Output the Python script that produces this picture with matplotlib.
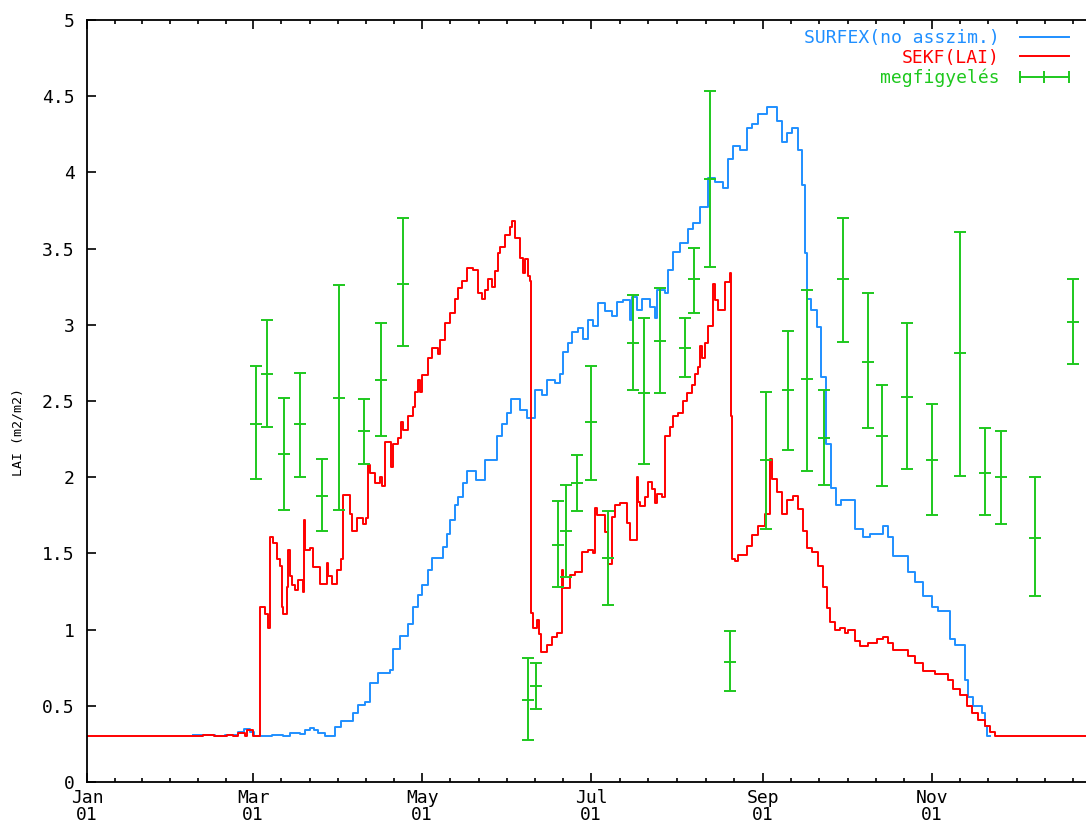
import numpy as np
import matplotlib
matplotlib.use('Agg')
import matplotlib.pyplot as plt
from matplotlib.lines import Line2D
from matplotlib.ticker import FormatStrFormatter

# napok az év elejétől (szökőév), LAI értékek
surfex_nap = [38.3, 46.2, 49.8, 54.5, 56.7, 58.8, 60.3, 66.8, 70.7, 73.3, 76.9, 78.7, 80.5, 81.9, 83.4, 85.9,
              89.5, 91.7, 96.0, 97.8, 100.3, 102.1, 105.0, 109.4, 110.5, 113.0, 115.9, 117.7, 119.5, 120.9,
              123.1, 124.5, 128.5, 129.9, 131.0, 132.8, 133.9, 135.7, 137.2, 140.4, 143.7, 148.0, 149.8,
              151.6, 153.0, 156.3, 158.8, 161.7, 164.2, 166.0, 168.9, 170.7, 171.8, 173.6, 175.1, 177.2,
              179.0, 180.8, 182.6, 184.4, 187.0, 189.5, 191.3, 193.5, 196.0, 196.7, 198.5, 200.3, 203.2,
              205.0, 205.7, 208.6, 209.7, 211.5, 214.1, 217.0, 218.7, 221.3, 224.2, 226.7, 229.6, 231.4,
              233.2, 235.7, 238.2, 240.0, 242.2, 245.4, 249.0, 250.9, 252.7, 254.5, 256.6, 258.1, 259.2,
              259.9, 261.3, 263.5, 264.9, 266.7, 268.5, 270.3, 272.1, 277.2, 280.1, 282.6, 287.3, 289.1,
              290.9, 296.3, 298.9, 301.8, 305.0, 307.2, 311.5, 313.3, 316.9, 318.0, 319.8, 323.0, 324.1,
              324.9, 325.9]
surfex_lai = [0.31, 0.30, 0.31, 0.33, 0.345, 0.33, 0.30, 0.31, 0.305, 0.32, 0.315, 0.34, 0.355, 0.34, 0.32, 0.305,
              0.36, 0.40, 0.45, 0.505, 0.527, 0.65, 0.715, 0.735, 0.87, 0.96, 1.04, 1.15, 1.23, 1.29,
              1.39, 1.47, 1.54, 1.63, 1.72, 1.82, 1.87, 1.96, 2.04, 1.98, 2.11, 2.27, 2.35,
              2.42, 2.51, 2.44, 2.39, 2.57, 2.54, 2.64, 2.62, 2.68, 2.82, 2.88, 2.955, 2.98,
              2.91, 3.03, 2.99, 3.14, 3.09, 3.06, 3.15, 3.16, 3.03, 3.185, 3.10, 3.17, 3.12,
              3.045, 3.23, 3.21, 3.36, 3.48, 3.535, 3.63, 3.665, 3.775, 3.96, 3.94, 3.895, 4.09,
              4.17, 4.15, 4.29, 4.32, 4.38, 4.43, 4.34, 4.20, 4.26, 4.29, 4.15, 3.92, 3.47,
              3.17, 3.10, 2.985, 2.66, 2.22, 1.93, 1.82, 1.85, 1.66, 1.61, 1.63, 1.68, 1.61,
              1.48, 1.38, 1.31, 1.22, 1.15, 1.12, 0.94, 0.90, 0.67, 0.555, 0.50, 0.45, 0.37,
              0.30, 0.30]

sekf_nap = [0.0, 42.0, 46.0, 50.5, 52.7, 54.5, 57.0, 57.7, 60.0, 62.4, 64.2, 65.3, 66.1, 67.1, 68.6, 69.7,
            70.4, 70.7, 72.2, 72.5, 73.3, 74.0, 75.1, 76.2, 78.0, 78.3, 78.7, 80.5, 81.6, 84.1, 86.6,
            87.0, 88.4, 90.2, 91.7, 92.4, 94.9, 95.7, 97.5, 99.6, 100.7, 101.4, 102.1, 104.0, 105.8,
            106.5, 107.6, 109.7, 110.5, 112.3, 113.3, 114.1, 115.9, 117.7, 118.4, 119.5, 120.2, 120.9,
            123.1, 124.5, 126.7, 127.4, 129.2, 131.0, 132.8, 133.9, 135.4, 137.2, 139.3, 141.1, 142.6,
            143.7, 144.7, 146.2, 147.3, 148.4, 149.1, 150.9, 152.7, 153.4, 154.5, 156.3, 157.4, 158.1,
            159.2, 159.9, 160.3, 161.0, 162.4, 163.1, 163.9, 166.0, 167.8, 169.6, 171.5, 171.8, 174.3,
            176.1, 178.7, 180.8, 182.6, 183.4, 184.0, 187.0, 188.1, 189.5, 190.6, 192.4, 194.9, 196.0,
            198.5, 198.9, 199.6, 201.4, 202.5, 203.9, 205.0, 205.7, 207.5, 208.6, 210.4, 211.5, 213.3,
            215.1, 216.6, 218.4, 219.5, 220.5, 221.3, 222.0, 223.1, 224.2, 226.0, 226.7, 227.8, 230.3,
            232.1, 232.4, 232.9, 233.9, 235.0, 238.2, 240.0, 242.2, 244.7, 246.5, 247.2, 249.0, 250.9,
            252.7, 254.8, 256.6, 258.4, 259.9, 261.7, 263.9, 265.7, 267.1, 268.2, 270.0, 271.8, 273.6,
            274.7, 277.2, 279.0, 281.9, 285.1, 287.3, 289.1, 290.9, 296.3, 298.9, 301.8, 306.1, 310.8,
            312.6, 315.1, 317.6, 319.4, 321.6, 324.1, 325.9, 327.7, 361.0]
sekf_lai = [0.30, 0.31, 0.30, 0.31, 0.30, 0.32, 0.30, 0.34, 0.30, 1.15, 1.10, 1.01, 1.61, 1.57, 1.46, 1.42,
            1.15, 1.10, 1.28, 1.52, 1.35, 1.29, 1.26, 1.325, 1.25, 1.72, 1.52, 1.535, 1.41, 1.30, 1.435,
            1.35, 1.30, 1.39, 1.46, 1.88, 1.76, 1.65, 1.73, 1.69, 1.73, 2.08, 2.03, 1.96, 2.00,
            1.94, 2.23, 2.07, 2.22, 2.255, 2.36, 2.31, 2.40, 2.46, 2.56, 2.64, 2.56, 2.67,
            2.78, 2.845, 2.81, 2.90, 3.01, 3.075, 3.17, 3.24, 3.29, 3.37, 3.36, 3.21, 3.17,
            3.23, 3.30, 3.25, 3.35, 3.47, 3.51, 3.59, 3.64, 3.68, 3.57, 3.44, 3.34, 3.43,
            3.32, 3.29, 1.11, 1.01, 1.06, 0.97, 0.855, 0.90, 0.953, 0.976, 1.39, 1.27, 1.36,
            1.38, 1.51, 1.52, 1.50, 1.80, 1.75, 1.64, 1.43, 1.74, 1.82, 1.83, 1.70, 1.59,
            2.00, 1.84, 1.81, 1.87, 1.97, 1.92, 1.83, 1.89, 1.87, 2.27, 2.33, 2.40, 2.42,
            2.50, 2.55, 2.605, 2.68, 2.725, 2.86, 2.78, 2.88, 2.99, 3.27, 3.16, 3.10, 3.28,
            3.34, 2.40, 1.465, 1.45, 1.49, 1.55, 1.62, 1.68, 1.76, 2.12, 1.99, 1.905, 1.76,
            1.85, 1.877, 1.79, 1.65, 1.535, 1.507, 1.42, 1.28, 1.14, 1.05, 0.995, 1.01, 0.98,
            0.995, 0.925, 0.895, 0.91, 0.94, 0.953, 0.91, 0.867, 0.825, 0.78, 0.726, 0.71, 0.67,
            0.61, 0.57, 0.50, 0.455, 0.41, 0.37, 0.33, 0.30, 0.30]

# megfigyelések: nap, érték, alsó és felső határ
obs_nap = [61, 65, 71, 77, 85, 91, 100, 106, 114, 159, 162, 170, 173, 177, 182, 188, 197, 201, 207,
           216, 219, 225, 232, 245, 253, 260, 266, 273, 282, 287, 296, 305, 315, 324, 330, 342, 356]
obs_lai = [2.35, 2.675, 2.155, 2.35, 1.875, 2.52, 2.305, 2.64, 3.27, 0.54, 0.63, 1.555, 1.645, 1.96, 2.36,
           1.47, 2.88, 2.555, 2.895, 2.85, 3.30, 3.957, 0.79, 2.11, 2.57, 2.645, 2.26, 3.30, 2.756, 2.27,
           2.525, 2.11, 2.815, 2.03, 2.0, 1.60, 3.02]
obs_also = [1.985, 2.33, 1.785, 2.0, 1.645, 1.785, 2.085, 2.27, 2.86, 0.275, 0.48, 1.277, 1.345, 1.775,
            1.98, 1.16, 2.57, 2.085, 2.55, 2.655, 3.08, 3.38, 0.60, 1.66, 2.18, 2.04, 1.947, 2.886, 2.32,
            1.94, 2.053, 1.755, 2.01, 1.755, 1.69, 1.22, 2.745]
obs_felso = [2.73, 3.03, 2.52, 2.685, 2.12, 3.26, 2.51, 3.01, 3.70, 0.815, 0.78, 1.845, 1.947, 2.145,
             2.73, 1.78, 3.195, 3.045, 3.24, 3.045, 3.505, 4.535, 0.99, 2.56, 2.96, 3.23, 2.57, 3.70, 3.21,
             2.605, 3.01, 2.48, 3.61, 2.32, 2.30, 2.0, 3.30]

honap_nap = [0, 60, 121, 182, 244, 305, 366]
honap_cimke = ['Jan\n01', 'Mar\n01', 'May\n01', 'Jul\n01', 'Sep\n01', 'Nov\n01']

kek = '#1f8fff'
piros = '#ff0000'
zold = '#1ec81e'

plt.rcParams['font.family'] = ['DejaVu Sans Mono']
plt.rcParams['font.size'] = 13

fig = plt.figure(figsize=(10.86, 8.27), dpi=100)
ax = fig.add_axes([87 / 1086, 45 / 827, 1 - 87 / 1086, 762 / 827])

ax.plot(surfex_nap, surfex_lai, color=kek, lw=1.4, drawstyle='steps-post')
ax.plot(sekf_nap, sekf_lai, color=piros, lw=1.4, drawstyle='steps-post')
obs_lai = np.array(obs_lai)
hiba = [obs_lai - np.array(obs_also), np.array(obs_felso) - obs_lai]
ax.errorbar(obs_nap, obs_lai, yerr=hiba, fmt='_', color=zold, ms=8, mew=1.4,
            elinewidth=1.4, capsize=4, capthick=1.4)

ax.set_xlim(0, (1086 - 87) / 2.7705)
ax.set_ylim(0, 5)
ax.set_yticks(np.arange(0, 5.01, 0.5))
ax.yaxis.set_major_formatter(FormatStrFormatter('%g'))
ax.set_xticks(honap_nap[:-1])
ax.set_xticklabels(honap_cimke)
kis = []
for a, b in zip(honap_nap[:-1], honap_nap[1:]):
    kis += list(np.linspace(a, b, 7)[1:-1])
ax.set_xticks(kis, minor=True)
for c in ax.get_xticklabels():
    c.set_linespacing(0.95)

ax.tick_params(axis='x', which='both', direction='in', top=True, bottom=True, width=1.2, pad=5)
ax.tick_params(axis='x', which='major', length=6.7)
ax.tick_params(axis='x', which='minor', length=3.2)
ax.tick_params(axis='y', which='both', direction='in', left=True, right=False, length=6.7, width=1.2, pad=9)
ax.spines['right'].set_visible(False)
for s in ['left', 'top', 'bottom']:
    ax.spines[s].set_linewidth(1.3)

fig.text(18 / 1086, 1 - 432 / 827, 'LAI (m2/m2)', rotation=90, ha='center', va='center', fontsize=9.5)

kezelok = [Line2D([], [], color=kek, lw=1.4),
           Line2D([], [], color=piros, lw=1.4),
           Line2D([], [], color=zold, lw=1.4, marker='|', ms=8, mew=1.4)]
ax.legend(kezelok, ['SURFEX(no asszim.)', 'SEKF(LAI)', 'megfigyelés'], loc='upper right',
          bbox_to_anchor=(1074 / 1086, 1 - 29 / 827), bbox_transform=fig.transFigure,
          frameon=False, markerfirst=False, numpoints=3, handlelength=3.3, handletextpad=0.8,
          labelspacing=0.1, borderpad=0, borderaxespad=0, labelcolor='linecolor')

fig.savefig('out.png', dpi=100)
